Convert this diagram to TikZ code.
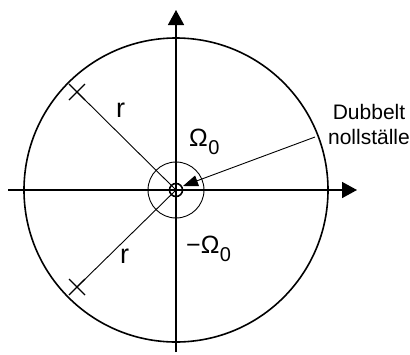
\documentclass[tikz,border=0pt]{standalone}
\usepackage{fontspec}
\setmainfont{Liberation Sans}
\usetikzlibrary{arrows.meta,calc}
\tikzset{
  axis/.style={line width=1.6pt,-{Triangle[length=15pt,width=16pt]}},
  ring/.style={line width=1.6pt},
  thinline/.style={line width=0.9pt},
  polemark/.style={line width=1.3pt},
  lbl/.style={inner sep=0pt,font=\fontsize{27}{30}\selectfont},
  omg/.style={inner sep=0pt,font=\fontsize{25}{28}\selectfont},
  omgsub/.style={inner sep=0pt,font=\fontsize{20}{24}\selectfont},
  note/.style={inner sep=0pt,align=center,font=\fontsize{21}{25}\selectfont},
}
\begin{document}
\begin{tikzpicture}[x=1pt,y=-1pt]
\useasboundingbox (0,0) rectangle (410,354);
\coordinate (O) at (176,190);
\coordinate (xs) at (8,190);
\coordinate (xe) at (357,190);
\coordinate (ys) at (176,352);
\coordinate (ye) at (176,10);
% unit circle
\draw[ring] (O) circle (152);
% axes
\draw[axis] (xs) -- (xe);
\draw[axis] (ys) -- (ye);
% angle circle
\draw[thinline] (O) circle (28);
% double zero
\draw[ring] (O) circle (6.5);
% poles
\coordinate (p1) at ($(O)+(-99,-98)$);
\coordinate (p2) at ($(O)+(-99,97)$);
\draw[thinline] (O) -- (p1);
\draw[thinline] (O) -- (p2);
\foreach \p in {p1,p2}{
  \draw[polemark] ($(\p)+(-8,-8)$) -- ($(\p)+(8,8)$);
  \draw[polemark] ($(\p)+(-8,8)$) -- ($(\p)+(8,-8)$);
}
% labels
\node[lbl,anchor=base west] (r1) at (116,117) {r};
\node[lbl,anchor=base west] (r2) at (120,263) {r};
\node[omg,anchor=base west] (om1) at (189,146) {Ω};
\node[omgsub,anchor=base west,yshift=-8pt] (om1s) at (om1.base east) {0};
\node[omg,anchor=base west] (om2) at (186,253) {−Ω};
\node[omgsub,anchor=base west,yshift=-8pt] (om2s) at (om2.base east) {0};
\node[note] (dub) at (369,124) {Dubbelt\\nollställe};
\coordinate (tail) at (315,137);
\coordinate (dz) at (183,186);
\draw[thinline,-{Triangle[length=15pt,width=11pt]}] (tail) -- (dz);
\end{tikzpicture}
\end{document}
